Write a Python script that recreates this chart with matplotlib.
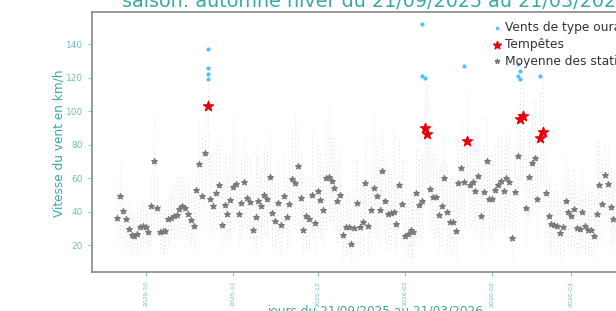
import matplotlib
matplotlib.use("Agg")
import matplotlib.pyplot as plt
import matplotlib.dates as mdates
import numpy as np
import pandas as pd

# Daily mean of the stations (km/h), from 21/09/2025
moyennes = [
    36.3, 49.1, 40.3, 35.3, 29.4, 25.8, 25.2, 26.4, 30.9, 31.2,
    30.6, 27.8, 43.3, 70.0, 41.9, 27.6, 28.4, 28.4, 35.5, 36.3,
    37.1, 37.7, 41.5, 43.5, 41.9, 38.5, 35.1, 31.2, 52.8, 68.4,
    49.1, 75.3, 103.2, 47.3, 43.1, 51.2, 56.0, 32.1, 43.9, 38.7,
    46.9, 54.6, 56.6, 38.7, 44.9, 57.6, 48.2, 45.5, 29.1, 36.7,
    46.1, 43.3, 50.0, 47.5, 60.4, 38.9, 34.1, 44.9, 32.3, 49.1,
    36.5, 44.7, 59.4, 57.0, 67.0, 47.9, 28.8, 37.1, 35.7, 49.7,
    33.1, 52.4, 47.0, 40.9, 60.0, 60.4, 58.2, 54.2, 46.4, 49.7,
    26.1, 30.7, 30.9, 20.4, 30.1, 45.1, 30.6, 33.6, 57.0, 31.5,
    40.7, 54.0, 49.1, 40.9, 64.2, 46.3, 38.5, 39.3, 39.5, 32.4,
    56.2, 44.5, 25.6, 26.4, 28.8, 27.6, 51.2, 43.9, 46.1, 89.7,
    86.3, 53.4, 48.5, 48.5, 37.7, 43.3, 60.0, 39.5, 33.7, 33.7,
    28.5, 57.4, 66.1, 57.8, 82.3, 55.8, 57.8, 52.4, 61.2, 37.1,
    51.5, 70.0, 47.3, 47.3, 53.0, 55.8, 58.2, 52.2, 59.8, 57.6,
    24.2, 52.0, 73.1, 95.2, 97.0, 42.3, 60.4, 68.8, 72.0, 47.8,
    84.0, 87.5, 50.9, 37.1, 32.7, 31.8, 31.2, 27.0, 30.6, 46.6,
    39.7, 37.1, 41.7, 30.0, 29.4, 39.9, 31.2, 29.1, 29.1, 25.6,
    38.7, 56.0, 44.5, 61.6, 56.4, 42.9, 35.3,
]

# lowest / highest station value of each day (km/h)
station_min = [
    20, 25, 22, 18, 17, 15, 14, 16, 17, 20,
    22, 18, 20, 30, 25, 16, 15, 15, 20, 22,
    25, 25, 28, 30, 28, 22, 20, 18, 30, 38,
    32, 45, 60, 30, 25, 30, 35, 18, 25, 22,
    25, 30, 35, 20, 25, 32, 28, 25, 15, 18,
    25, 22, 28, 25, 35, 20, 18, 22, 15, 28,
    18, 22, 32, 30, 40, 25, 14, 18, 18, 25,
    15, 28, 25, 20, 32, 35, 35, 30, 22, 25,
    12, 14, 15, 11, 13, 22, 14, 15, 30, 15,
    18, 28, 25, 20, 38, 22, 18, 18, 20, 15,
    30, 22, 12, 12, 13, 13, 25, 22, 25, 60,
    55, 30, 25, 25, 18, 20, 35, 18, 15, 15,
    13, 30, 40, 32, 55, 30, 32, 28, 35, 18,
    28, 42, 22, 22, 28, 30, 32, 28, 35, 32,
    12, 28, 45, 60, 62, 20, 35, 42, 45, 25,
    55, 58, 28, 18, 15, 15, 15, 13, 14, 25,
    20, 18, 20, 14, 14, 20, 15, 14, 14, 12,
    20, 32, 22, 38, 32, 22, 18,
]
station_max = [
    58, 68, 55, 45, 45, 40, 38, 42, 45, 48,
    45, 42, 62, 97, 60, 45, 40, 42, 50, 55,
    58, 60, 62, 62, 60, 57, 52, 48, 72, 95,
    85, 110, 118, 75, 70, 78, 82, 55, 72, 65,
    75, 98, 85, 62, 70, 85, 75, 72, 55, 78,
    72, 68, 78, 75, 88, 62, 58, 70, 55, 75,
    62, 72, 88, 99, 92, 75, 50, 62, 60, 86,
    58, 80, 75, 68, 96, 104, 85, 82, 72, 78,
    45, 50, 52, 42, 50, 72, 55, 58, 85, 55,
    68, 98, 78, 70, 90, 75, 65, 65, 90, 58,
    82, 72, 48, 48, 52, 50, 78, 72, 75, 117,
    117, 80, 76, 75, 65, 70, 88, 68, 60, 60,
    55, 85, 95, 85, 112, 82, 85, 80, 90, 65,
    80, 98, 75, 75, 80, 85, 85, 80, 88, 85,
    48, 80, 105, 117, 117, 72, 88, 100, 108, 75,
    112, 117, 78, 60, 55, 55, 55, 50, 55, 72,
    65, 60, 65, 52, 50, 65, 55, 52, 52, 48,
    80, 82, 72, 82, 80, 68, 60,
]

# hurricane-force gusts (>= 118 km/h) measured at a station
ouragan_jours = ["2025-10-23", "2025-10-23", "2025-10-23", "2025-10-23",
                 "2026-01-07", "2026-01-07", "2026-01-08",
                 "2026-01-22", "2026-02-10", "2026-02-10", "2026-02-11",
                 "2026-02-11", "2026-02-18"]
ouragan_vitesse = [137, 126, 122, 119, 152, 121, 120, 127, 128, 121, 124, 119, 121]

seuil_tempete = 80

teal = "#3aa9a3"
teal_light = "#6cc3bd"

jours = pd.date_range("2025-09-21", periods=len(moyennes), freq="D")
moy = np.array(moyennes)
tempete = moy >= seuil_tempete

fig = plt.figure(figsize=(6.16, 3.11), dpi=100)
ax = fig.add_axes([92 / 616, 0.1264, 561 / 616, 0.836])

ax.vlines(jours, station_min, station_max, colors="#d2d2d2",
          linewidth=0.7, linestyles=(0, (0.8, 3.2)), zorder=1)
ax.scatter(pd.to_datetime(ouragan_jours), ouragan_vitesse, s=4,
           color="#4fc3f7", zorder=3, label="Vents de type ouragan")
ax.scatter(jours[tempete], moy[tempete], marker="*", s=55,
           color="#e8000b", zorder=5, label="Tempêtes")
ax.scatter(jours, moy, marker="*", s=16, color="#7a7a7a", zorder=4,
           label="Moyenne des stations")

x0 = pd.Timestamp("2025-09-21") - pd.Timedelta(days=9.05)
x1 = pd.Timestamp("2026-03-21") + pd.Timedelta(days=9.05)
ax.set_xlim(x0, x1)
ax.set_ylim(4.1, 159.5)
ax.set_yticks([20, 40, 60, 80, 100, 120, 140])

ax.xaxis.set_major_locator(mdates.MonthLocator())
ax.xaxis.set_major_formatter(mdates.DateFormatter("%Y-%m"))
ax.tick_params(axis="x", labelrotation=90, labelsize=4.5, colors=teal_light,
               length=3, width=0.6)
ax.tick_params(axis="y", labelsize=6.5, colors=teal_light, length=3, width=0.6)
for s in ax.spines.values():
    s.set_color("#7f7f7f")
    s.set_linewidth(1.1)

fig.text(59 / 616, 1 - 143 / 311, "Vitesse du vent en km/h", rotation=90,
         ha="center", va="center", color=teal, fontsize=8.7)
fig.text(375 / 616, 1 - 305 / 311, "jours du 21/09/2025 au 21/03/2026",
         ha="center", va="top", color=teal, fontsize=8.7)
fig.text(375 / 616, 1 - 7 / 311, "saison: automne hiver du 21/09/2025 au 21/03/2026",
         ha="center", va="baseline", color=teal, fontsize=13.8)

leg = ax.legend(loc="upper right", frameon=False, fontsize=8.8,
                handlelength=0.8, handletextpad=0.25, borderaxespad=0.35,
                labelspacing=0.32, markerscale=0.8)
for t in leg.get_texts():
    t.set_color("#333333")

fig.savefig("out.png", dpi=100)
